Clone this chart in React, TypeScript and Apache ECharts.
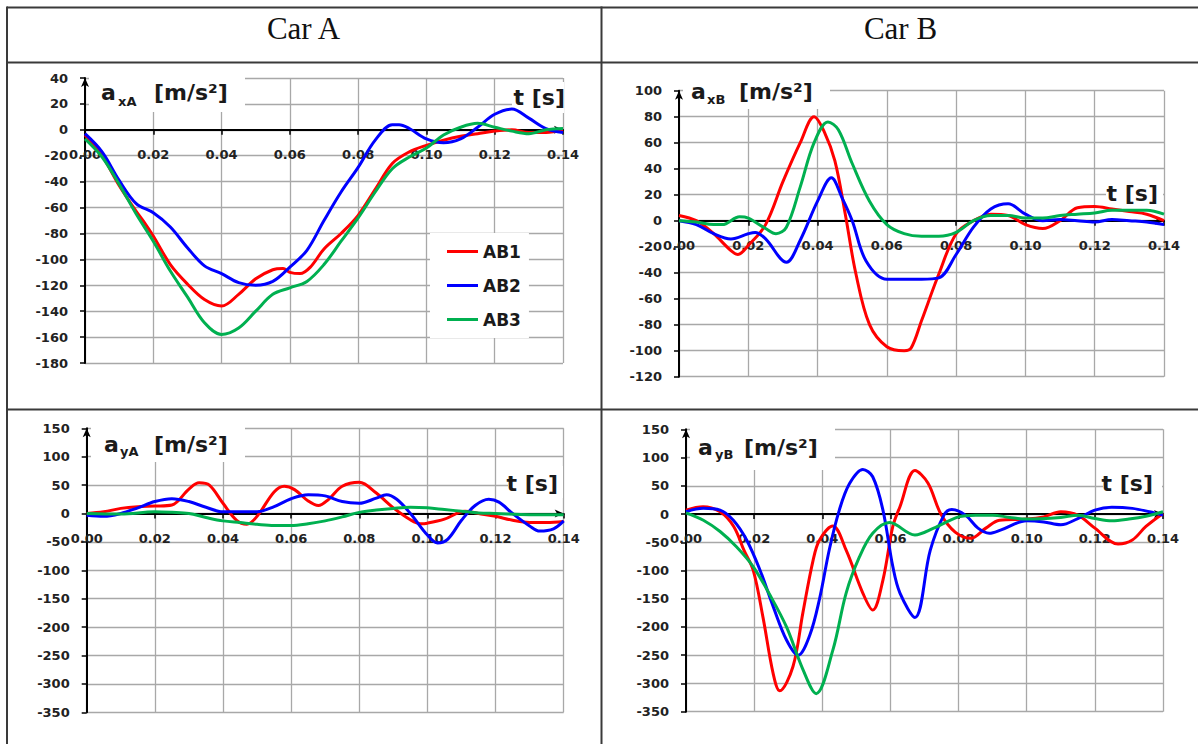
import React, { useEffect, useRef } from "react";
import * as echarts from "echarts";

// ---------------- data (time in s, acceleration in m/s²) ----------------
const seriesNames = ["AB1", "AB2", "AB3"];
const seriesColors = ["#ff0000", "#0000ff", "#00b050"];
const headers = ["Car A", "Car B"];
const xTicks = { min: 0, max: 0.14, interval: 0.02 };

// a_xA
const axA_AB1_t = [0, 0.005, 0.01, 0.015, 0.0175, 0.02, 0.025, 0.03, 0.035, 0.04, 0.045, 0.05, 0.055, 0.058, 0.06, 0.063, 0.066, 0.07, 0.075, 0.08, 0.085, 0.09, 0.095, 0.1, 0.105, 0.11, 0.115, 0.12, 0.125, 0.13, 0.135, 0.14];
const axA_AB1_v = [-4, -20, -43, -63, -72, -82, -104, -119, -131, -136, -127, -115, -108, -107, -110, -111, -106, -92, -80, -66, -46, -26, -17, -12, -8, -5, -3, -1, 0, -2, -2, 0];
const axA_AB2_t = [0, 0.005, 0.01, 0.015, 0.02, 0.025, 0.03, 0.035, 0.04, 0.045, 0.05, 0.055, 0.06, 0.065, 0.07, 0.075, 0.08, 0.085, 0.09, 0.092, 0.095, 0.1, 0.105, 0.11, 0.115, 0.12, 0.125, 0.13, 0.135, 0.14];
const axA_AB2_v = [-3, -17, -39, -57, -64, -75, -91, -105, -111, -118, -120, -117, -106, -93, -70, -48, -29, -8, 4, 4, 1, -7, -10, -7, 2, 12, 16, 9, 1, -2];
const axA_AB3_t = [0, 0.005, 0.01, 0.015, 0.02, 0.025, 0.03, 0.035, 0.04, 0.045, 0.05, 0.055, 0.06, 0.065, 0.07, 0.075, 0.08, 0.085, 0.09, 0.095, 0.1, 0.105, 0.11, 0.115, 0.12, 0.125, 0.13, 0.135, 0.14];
const axA_AB3_v = [-7, -21, -42, -65, -86, -109, -129, -149, -158, -153, -140, -127, -122, -117, -104, -86, -68, -48, -30, -21, -14, -4, 2, 5, 2, -1, -3, 0, 1];

// a_xB
const axB_AB1_t = [0, 0.005, 0.01, 0.015, 0.017, 0.02, 0.025, 0.03, 0.035, 0.039, 0.042, 0.045, 0.048, 0.051, 0.055, 0.06, 0.065, 0.067, 0.07, 0.075, 0.08, 0.085, 0.09, 0.095, 0.1, 0.105, 0.11, 0.115, 0.12, 0.125, 0.13, 0.135, 0.14];
const axB_AB1_v = [4, 0, -10, -23, -26, -19, -3, 30, 60, 80, 68, 46, 5, -40, -80, -97, -100, -98, -77, -41, -10, 0, 5, 4, -3, -6, 0, 10, 11, 9, 7, 5, 0];
const axB_AB2_t = [0, 0.005, 0.01, 0.015, 0.02, 0.022, 0.025, 0.031, 0.035, 0.04, 0.044, 0.047, 0.05, 0.054, 0.06, 0.065, 0.07, 0.075, 0.08, 0.085, 0.09, 0.095, 0.1, 0.105, 0.11, 0.115, 0.12, 0.125, 0.13, 0.135, 0.14];
const axB_AB2_v = [0, -3, -10, -14, -10, -9, -14, -32, -15, 15, 33, 18, 0, -31, -45, -45, -45, -44, -26, -5, 9, 13, 5, 0, 1, 0, -1, 1, 0, -1, -3];
const axB_AB3_t = [0, 0.005, 0.01, 0.0125, 0.0175, 0.02, 0.025, 0.028, 0.031, 0.035, 0.039, 0.043, 0.046, 0.05, 0.055, 0.06, 0.065, 0.07, 0.075, 0.08, 0.085, 0.09, 0.095, 0.1, 0.105, 0.11, 0.115, 0.12, 0.125, 0.13, 0.135, 0.14];
const axB_AB3_v = [0, -1, -3, -3, 3, 2, -6, -10, -5, 26, 60, 76, 70, 44, 15, -3, -10, -12, -12, -9, 0, 4, 4, 2, 2, 4, 5, 6, 8, 8, 8, 5];

// a_yA
const ayA_AB1_t = [0, 0.005, 0.01, 0.015, 0.02, 0.025, 0.03, 0.033, 0.036, 0.04, 0.044, 0.047, 0.05, 0.055, 0.058, 0.061, 0.065, 0.068, 0.071, 0.075, 0.08, 0.085, 0.09, 0.095, 0.098, 0.1, 0.105, 0.111, 0.115, 0.12, 0.125, 0.13, 0.135, 0.14];
const ayA_AB1_v = [0, 3, 9, 12, 13, 15, 43, 54, 50, 18, -12, -19, -5, 38, 48, 42, 22, 14, 25, 48, 55, 36, 10, -11, -18, -17, -10, 4, 0, -5, -12, -16, -16, -14];
const ayA_AB2_t = [0, 0.005, 0.01, 0.015, 0.02, 0.025, 0.03, 0.035, 0.04, 0.045, 0.05, 0.055, 0.06, 0.065, 0.07, 0.075, 0.08, 0.085, 0.088, 0.091, 0.095, 0.1, 0.103, 0.106, 0.11, 0.114, 0.118, 0.121, 0.125, 0.13, 0.133, 0.137, 0.14];
const ayA_AB2_v = [-3, -5, 0, 10, 21, 26, 21, 11, 3, 3, 3, 12, 26, 33, 31, 21, 18, 27, 33, 25, 0, -38, -52, -45, -12, 14, 25, 20, 0, -22, -31, -27, -13];
const ayA_AB3_t = [0, 0.01, 0.02, 0.025, 0.03, 0.035, 0.04, 0.045, 0.05, 0.055, 0.06, 0.065, 0.07, 0.075, 0.08, 0.085, 0.09, 0.095, 0.1, 0.105, 0.11, 0.115, 0.12, 0.13, 0.14];
const ayA_AB3_v = [0, -1, 3, 2, 0, -7, -13, -16, -19, -21, -21, -18, -13, -6, 2, 6, 9, 11, 10, 7, 4, 1, 0, -2, -2];

// a_yB
const ayB_AB1_t = [0, 0.005, 0.01, 0.014, 0.017, 0.0197, 0.0226, 0.0256, 0.0275, 0.0314, 0.0343, 0.0373, 0.0392, 0.0431, 0.047, 0.0519, 0.0548, 0.0578, 0.0607, 0.0628, 0.0672, 0.071, 0.0748, 0.079, 0.0836, 0.088, 0.092, 0.1, 0.105, 0.11, 0.115, 0.12, 0.1268, 0.131, 0.135, 0.14];
const ayB_AB1_v = [7, 13, 4, -22, -64, -99, -183, -283, -313, -270, -175, -82, -46, -21, -64, -140, -170, -117, -22, 13, 77, 55, 0, -32, -43, -25, -11, -9, -5, 4, -2, -25, -53, -46, -22, 1];
const ayB_AB2_t = [0, 0.0051, 0.01, 0.0139, 0.0178, 0.0217, 0.0256, 0.0295, 0.0329, 0.0363, 0.0392, 0.0421, 0.045, 0.048, 0.0519, 0.0548, 0.0578, 0.0607, 0.0628, 0.0672, 0.0717, 0.0757, 0.078, 0.082, 0.0857, 0.089, 0.0925, 0.1, 0.105, 0.11, 0.115, 0.12, 0.125, 0.131, 0.136, 0.14];
const ayB_AB2_v = [4, 10, 7, -11, -46, -99, -164, -223, -250, -215, -150, -62, 7, 54, 79, 66, 7, -93, -140, -183, -64, -2, 8, -2, -25, -34, -28, -12, -14, -19, -8, 7, 12, 10, 4, -2];
const ayB_AB3_t = [0, 0.0051, 0.01, 0.0148, 0.0197, 0.0246, 0.0295, 0.0343, 0.0382, 0.0431, 0.047, 0.0509, 0.0548, 0.0597, 0.0672, 0.0727, 0.08, 0.085, 0.09, 0.095, 0.1, 0.11, 0.115, 0.12, 0.125, 0.13, 0.135, 0.14];
const ayB_AB3_v = [2, -11, -31, -58, -93, -143, -200, -275, -318, -241, -140, -76, -34, -15, -37, -25, -5, -2, -2, -6, -9, -6, -2, -8, -12, -9, -4, 4];

// y-axis ranges per panel
const yRanges = [
  { min: -180, max: 40, interval: 20 },
  { min: -120, max: 100, interval: 20 },
  { min: -350, max: 150, interval: 50 },
  { min: -350, max: 150, interval: 50 },
];
const panelData = [
  [[axA_AB1_t, axA_AB1_v], [axA_AB2_t, axA_AB2_v], [axA_AB3_t, axA_AB3_v]],
  [[axB_AB1_t, axB_AB1_v], [axB_AB2_t, axB_AB2_v], [axB_AB3_t, axB_AB3_v]],
  [[ayA_AB1_t, ayA_AB1_v], [ayA_AB2_t, ayA_AB2_v], [ayA_AB3_t, ayA_AB3_v]],
  [[ayB_AB1_t, ayB_AB1_v], [ayB_AB2_t, ayB_AB2_v], [ayB_AB3_t, ayB_AB3_v]],
];
const panelSubs = ["xA", "xB", "yA", "yB"];

// ---------------- layout ----------------
const grids = [
  { left: 85, top: 78, width: 478, height: 285 },
  { left: 679, top: 90.7, width: 485, height: 286 },
  { left: 86.7, top: 428.3, width: 477, height: 284 },
  { left: 686, top: 429.3, width: 477, height: 282.4 },
];
const titles = [
  { ax: 101, ab: 99.5, sx: 118, sb: 105, ux: 154, box: [89, 66, 156, 46] },
  { ax: 691, ab: 98, sx: 707, sb: 103.5, ux: 739, box: [683, 80, 147, 29] },
  { ax: 104, ab: 451, sx: 120, sb: 455, ux: 154, box: [91, 418, 154, 44] },
  { ax: 698, ab: 454, sx: 715, sb: 458, ux: 744, box: [690, 420, 145, 50] },
];
const tLabels = [
  { right: 565, base: 104, box: [512, 82, 52, 31] },
  { right: 1158, base: 200, box: [1106, 178, 57, 28] },
  { right: 558, base: 490, box: [508, 466, 55, 32] },
  { right: 1153, base: 490, box: [1103, 466, 59, 32] },
];

const FONT = "DejaVu Sans";
const TITLE_FS = 22;

export default function App() {
  const ref = useRef<HTMLDivElement>(null);

  useEffect(() => {
    document.body.style.margin = "0";
    const chart = echarts.init(ref.current as HTMLDivElement, undefined, { renderer: "svg" });

    const xAxes = grids.map((g, i) => {
      const r = yRanges[i];
      const zeroOffset = -(g.height * (0 - r.min)) / (r.max - r.min);
      return {
        type: "value",
        gridIndex: i,
        position: "bottom",
        offset: zeroOffset,
        min: xTicks.min,
        max: xTicks.max,
        interval: xTicks.interval,
        axisLine: {
          show: true,
          onZero: false,
          symbol: ["none", "arrow"],
          symbolSize: [6, 9],
          lineStyle: { color: "#000", width: 2 },
        },
        axisTick: { show: true, length: 5, lineStyle: { color: "#000", width: 1.5 } },
        axisLabel: {
          show: true,
          margin: 18,
          showMinLabel: true,
          showMaxLabel: true,
          formatter: (v: number) => v.toFixed(2),
          color: "#222",
          fontFamily: FONT,
          fontWeight: "bold",
          fontSize: 13,
        },
        splitLine: { show: true, lineStyle: { color: "#a8a8a8", width: 1.3 } },
      };
    });

    const yAxes = grids.map((_, i) => ({
      type: "value",
      gridIndex: i,
      min: yRanges[i].min,
      max: yRanges[i].max,
      interval: yRanges[i].interval,
      axisLine: {
        show: true,
        onZero: false,
        symbol: ["none", "arrow"],
        symbolSize: [6, 9],
        lineStyle: { color: "#000", width: 2 },
      },
      axisTick: { show: true, length: 5, lineStyle: { color: "#000", width: 1.5 } },
      axisLabel: {
        show: true,
        margin: 17,
        showMinLabel: true,
        showMaxLabel: true,
        color: "#222",
        fontFamily: FONT,
        fontWeight: "bold",
        fontSize: 13,
      },
      splitLine: { show: true, lineStyle: { color: "#a8a8a8", width: 1.3 } },
    }));

    const series: any[] = [];
    panelData.forEach((panel, gi) => {
      panel.forEach(([t, v], si) => {
        series.push({
          type: "line",
          name: seriesNames[si],
          xAxisIndex: gi,
          yAxisIndex: gi,
          data: t.map((x: number, k: number) => [x, v[k]]),
          smooth: 0.35,
          symbol: "none",
          silent: true,
          lineStyle: { color: seriesColors[si], width: 3 },
          itemStyle: { color: seriesColors[si] },
          z: 3,
        });
      });
    });

    const lineStroke = { stroke: "#3a3a3a", lineWidth: 2 };
    const elements: any[] = [
      { type: "line", shape: { x1: 7, y1: 7.5, x2: 1198, y2: 7.5 }, style: lineStroke, z: 10 },
      { type: "line", shape: { x1: 7, y1: 62.5, x2: 1198, y2: 62.5 }, style: lineStroke, z: 10 },
      { type: "line", shape: { x1: 7, y1: 409.5, x2: 1198, y2: 409.5 }, style: lineStroke, z: 10 },
      { type: "line", shape: { x1: 7, y1: 6.5, x2: 7, y2: 744 }, style: lineStroke, z: 10 },
      { type: "line", shape: { x1: 601.5, y1: 6.5, x2: 601.5, y2: 744 }, style: lineStroke, z: 10 },
      ...headers.map((h, i) => ({
        type: "text",
        x: i === 0 ? 303.5 : 900.5,
        y: 28,
        style: {
          text: h,
          fontFamily: "Liberation Serif",
          fontSize: 31,
          fill: "#111",
          align: "center",
          verticalAlign: "middle",
        },
        z: 10,
      })),
    ];

    titles.forEach((tt, i) => {
      elements.push({
        type: "rect",
        shape: { x: tt.box[0], y: tt.box[1], width: tt.box[2], height: tt.box[3] },
        style: { fill: "#fff" },
        z: 1,
      });
      elements.push({
        type: "text",
        x: tt.ax,
        y: tt.ab - 0.3 * TITLE_FS,
        style: { text: "a", fontFamily: FONT, fontWeight: "bold", fontSize: TITLE_FS, fill: "#1a1a1a", align: "left", verticalAlign: "middle" },
        z: 6,
      });
      elements.push({
        type: "text",
        x: tt.sx,
        y: tt.sb - 0.3 * 13,
        style: { text: panelSubs[i], fontFamily: FONT, fontWeight: "bold", fontSize: 13, fill: "#1a1a1a", align: "left", verticalAlign: "middle" },
        z: 6,
      });
      elements.push({
        type: "text",
        x: tt.ux,
        y: tt.ab - 0.3 * TITLE_FS,
        style: { text: "[m/s²]", fontFamily: FONT, fontWeight: "bold", fontSize: TITLE_FS, fill: "#1a1a1a", align: "left", verticalAlign: "middle" },
        z: 6,
      });
    });

    tLabels.forEach((tl) => {
      elements.push({
        type: "rect",
        shape: { x: tl.box[0], y: tl.box[1], width: tl.box[2], height: tl.box[3] },
        style: { fill: "#fff" },
        z: 1,
      });
      elements.push({
        type: "text",
        x: tl.right,
        y: tl.base - 0.3 * TITLE_FS,
        style: { text: "t [s]", fontFamily: FONT, fontWeight: "bold", fontSize: TITLE_FS, fill: "#1a1a1a", align: "right", verticalAlign: "middle" },
        z: 6,
      });
    });

    chart.setOption({
      animation: false,
      backgroundColor: "#fff",
      grid: grids.map((g) => ({ ...g, containLabel: false, outerBoundsMode: "none" })),
      xAxis: xAxes,
      yAxis: yAxes,
      legend: {
        show: true,
        data: seriesNames.map((n) => ({ name: n, icon: "rect" })),
        orient: "vertical",
        left: 430,
        top: 233,
        padding: [10, 8, 10, 17],
        itemGap: 17,
        itemWidth: 31,
        itemHeight: 3,
        selectedMode: false,
        backgroundColor: "#fff",
        textStyle: { fontFamily: FONT, fontWeight: "bold", fontSize: 17, color: "#1a1a1a" },
      },
      graphic: { elements },
      series,
    });

    return () => {
      chart.dispose();
    };
  }, []);

  return <div ref={ref} style={{ width: 1198, height: 744 }} />;
}
